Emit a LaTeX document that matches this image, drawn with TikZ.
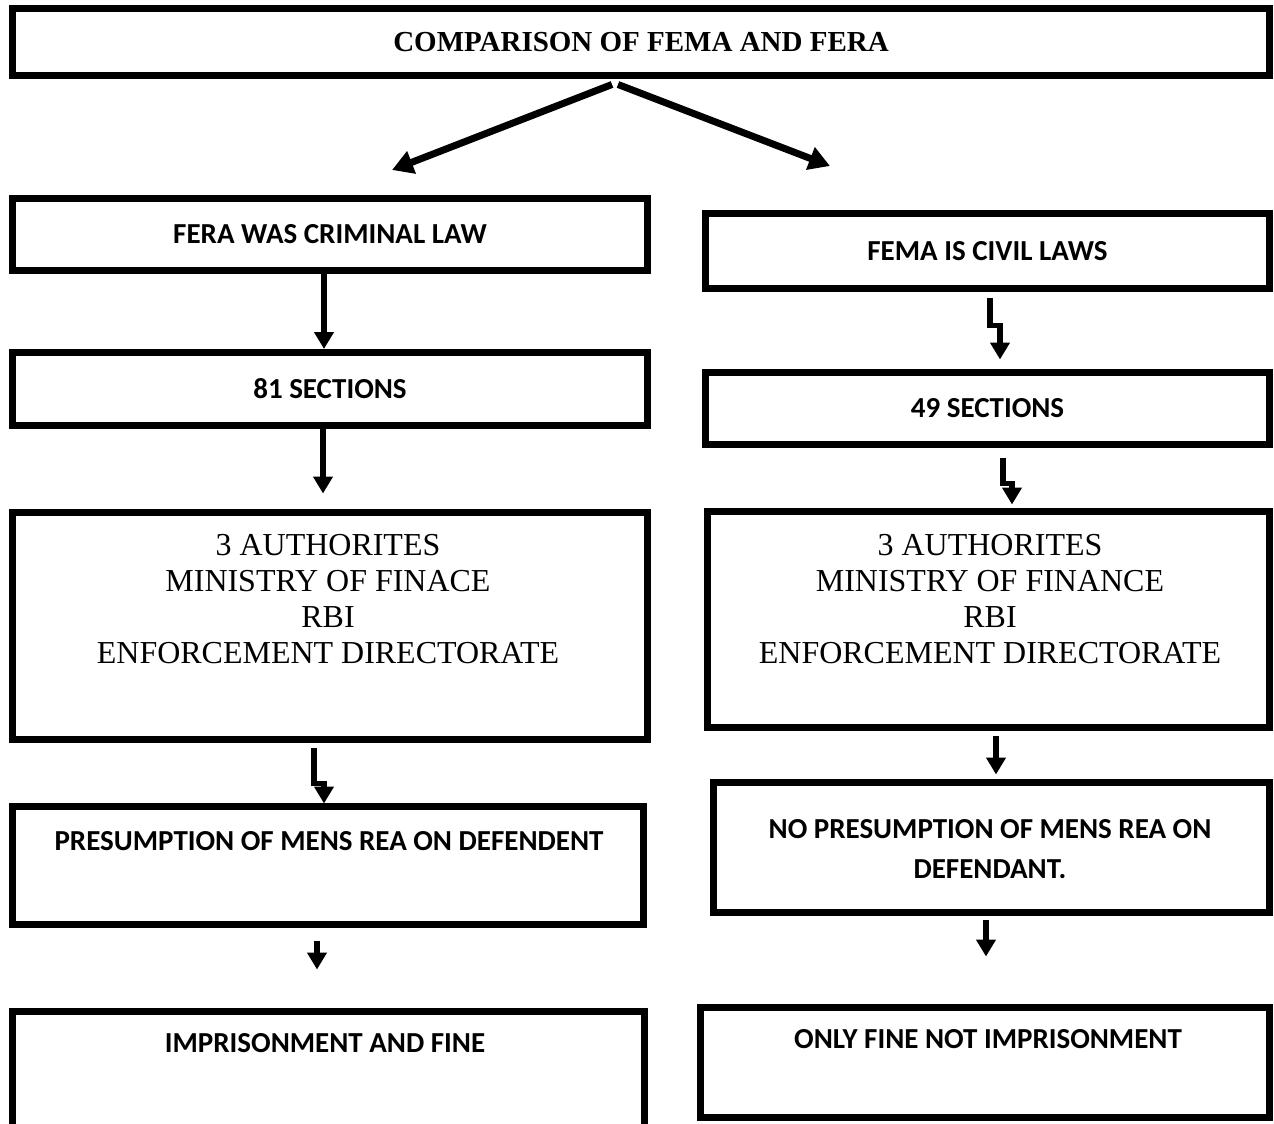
\documentclass[tikz,border=0pt]{standalone}
\usepackage{fontspec}
\setmainfont{Liberation Serif}
\newfontfamily\boxfont{Carlito}
\usetikzlibrary{arrows.meta,calc}

\begin{document}
\begin{tikzpicture}[
    x=0.02cm,
    y=-0.02cm,
    box/.style={
        draw,
        line width=0.14cm,
        inner sep=0pt
    },
    head/.style={
        font=\boxfont\bfseries\fontsize{16.5}{22.8}\selectfont,
        align=center
    },
    auth/.style={
        font=\fontsize{18.2}{20.5}\selectfont,
        align=center
    },
    flow/.style={
        line width=0.11cm,
        -{Triangle[length=0.34cm,width=0.38cm]}
    },
    split/.style={
        line width=0.14cm,
        -{Triangle[length=0.42cm,width=0.46cm]}
    }
]
    \useasboundingbox (0,0) rectangle (1274,1124);

    % --- Title ---
    \node[box, minimum width=25.14cm, minimum height=1.34cm,
          font=\bfseries\fontsize{16.5}{20}\selectfont] (title) at (641,42.5) {COMPARISON OF FEMA AND FERA};

    % --- FERA column ---
    \node[box, head, minimum width=12.71cm, minimum height=1.44cm] (fera) at (330,234.5) {FERA WAS CRIMINAL LAW};
    \node[box, head, minimum width=12.71cm, minimum height=1.46cm] (sec81) at (330,389) {81 SECTIONS};
    \node[box, minimum width=12.71cm, minimum height=4.56cm] (authL) at (330,626) {};
    \node[auth] (authLtext) at (328,599.5) {3 AUTHORITES\\MINISTRY OF FINACE\\RBI\\ENFORCEMENT DIRECTORATE};
    \node[box, minimum width=12.63cm, minimum height=2.38cm] (presL) at (328,865.5) {};
    \node[head] (presLtext) at (329,841) {PRESUMPTION OF MENS REA ON DEFENDENT};
    \node[box, minimum width=12.65cm, minimum height=2.58cm] (impL) at (328.75,1075.5) {};
    \node[head] (impLtext) at (325,1043) {IMPRISONMENT AND FINE};

    % --- FEMA column ---
    \node[box, head, minimum width=11.3cm, minimum height=1.52cm] (fema) at (987.5,251) {FEMA IS CIVIL LAWS};
    \node[box, head, minimum width=11.3cm, minimum height=1.46cm] (sec49) at (987.5,408.5) {49 SECTIONS};
    \node[box, minimum width=11.26cm, minimum height=4.34cm] (authR) at (988.5,619.5) {};
    \node[auth] (authRtext) at (990,599.5) {3 AUTHORITES\\MINISTRY OF FINANCE\\RBI\\ENFORCEMENT DIRECTORATE};
    \node[box, minimum width=11.14cm, minimum height=2.62cm] (presR) at (991.5,847.5) {};
    \node[head] (presRtext) at (990,849) {NO PRESUMPTION OF MENS REA ON\\DEFENDANT.};
    \node[box, minimum width=11.4cm, minimum height=2.22cm] (onlyR) at (985,1062.5) {};
    \node[head] (onlyRtext) at (988,1039) {ONLY FINE NOT IMPRISONMENT};

    % --- Split arrows ---
    \coordinate (tipL) at (392,170);
    \coordinate (tipR) at (830,166);
    \draw[split] ($(title.south)+(-29,5)$) -- (tipL);
    \draw[split] ($(title.south)+(-23,5)$) -- (tipR);

    % --- Left arrows ---
    \draw[flow] ($(fera.south)+(-6,0)$) -- ($(sec81.north)+(-6,0)$);
    \draw[flow] ($(sec81.south)+(-7,0)$) -- ($(authL.north)+(-7,-15)$);
    \draw[flow] ($(authL.south)+(-16,5)$) -- ++(0,35) -- ++(10,0) -- ($(presL.north)+(-4,1)$);
    \draw[flow] ($(presL.south)+(-11,13)$) -- ($(impL.north)+(-11.75,-38)$);

    % --- Right arrows ---
    \draw[flow] ($(fema.south)+(2.5,6)$) -- ++(0,27) -- ++(10,0) -- ($(sec49.north)+(12.5,-9)$);
    \draw[flow] ($(sec49.south)+(15.5,10)$) -- ++(0,25) -- ++(9,0) -- ($(authR.north)+(23.5,-3)$);
    \draw[flow] ($(authR.south)+(7.5,5)$) -- ($(presR.north)+(4.5,-4)$);
    \draw[flow] ($(presR.south)+(-5.5,4)$) -- ($(onlyR.north)+(1,-47)$);
\end{tikzpicture}
\end{document}
